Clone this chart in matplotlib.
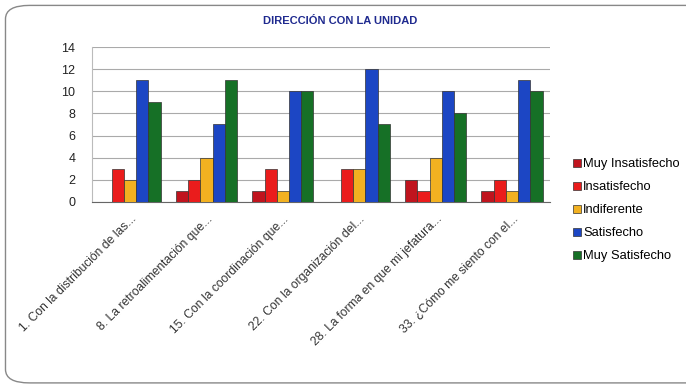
import matplotlib.pyplot as plt
import numpy as np
from matplotlib.patches import FancyBboxPatch

plt.rcParams['font.family'] = ['Liberation Sans', 'DejaVu Sans']

preguntas = ["1. Con la distribución de las...",
             "8. La retroalimentación que...",
             "15. Con la coordinación que...",
             "22. Con la organización del...",
             "28. La forma en que mi jefatura...",
             "33. ¿Cómo me siento con el..."]
niveles = ["Muy Insatisfecho", "Insatisfecho", "Indiferente", "Satisfecho", "Muy Satisfecho"]
muy_insatisfecho = [0, 1, 1, 0, 2, 1]
insatisfecho = [3, 2, 3, 3, 1, 2]
indiferente = [2, 4, 1, 3, 4, 1]
satisfecho = [11, 7, 10, 12, 10, 11]
muy_satisfecho = [9, 11, 10, 7, 8, 10]
colores = ["#c0141e", "#ea1c1c", "#f2b121", "#1c46c4", "#167026"]

series = [muy_insatisfecho, insatisfecho, indiferente, satisfecho, muy_satisfecho]

fig = plt.figure(figsize=(6.86, 3.86), dpi=100)
# rounded frame around the whole chart
fig.patches.append(FancyBboxPatch((0.008, 0.008), 1.05, 0.978, boxstyle="round,pad=0,rounding_size=0.035",
                                  transform=fig.transFigure, fill=False, edgecolor="#888888", linewidth=1.0))

ax = fig.add_axes([0.134, 0.477, 0.668, 0.401])
x = np.arange(len(preguntas))
w = 0.16
for i, (vals, nombre, c) in enumerate(zip(series, niveles, colores)):
    ax.bar(x + (i - 2) * w, vals, w, color=c, edgecolor="#333333", linewidth=0.5, label=nombre, zorder=3)

ax.set_xlim(-0.5, len(preguntas) - 0.5)
ax.set_ylim(0, 14)
ax.set_yticks(range(0, 15, 2))
ax.yaxis.grid(True, color="#aaaaaa", linewidth=0.8, zorder=0)
ax.tick_params(axis='y', length=0, labelsize=9, pad=12, colors="#222222")
ax.tick_params(axis='x', length=0, pad=8)
ax.set_xticks(x)
ax.set_xticklabels(preguntas, rotation=45, ha='right', rotation_mode='anchor', fontsize=8.7, color="#333333")
for s in ['top', 'right']:
    ax.spines[s].set_visible(False)
ax.spines['left'].set_color("#bbbbbb")
ax.spines['bottom'].set_color("#666666")

fig.text(0.496, 0.946, "DIRECCIÓN CON LA UNIDAD", ha='center', va='center',
         fontsize=8, fontweight='bold', color="#1f2a8f")

fig.legend(loc='upper left', bbox_to_anchor=(0.818, 0.62), frameon=False, fontsize=9.3,
           handlelength=0.6, handleheight=0.6, handletextpad=0.2, labelspacing=0.85)

fig.savefig("out.png", dpi=100)
